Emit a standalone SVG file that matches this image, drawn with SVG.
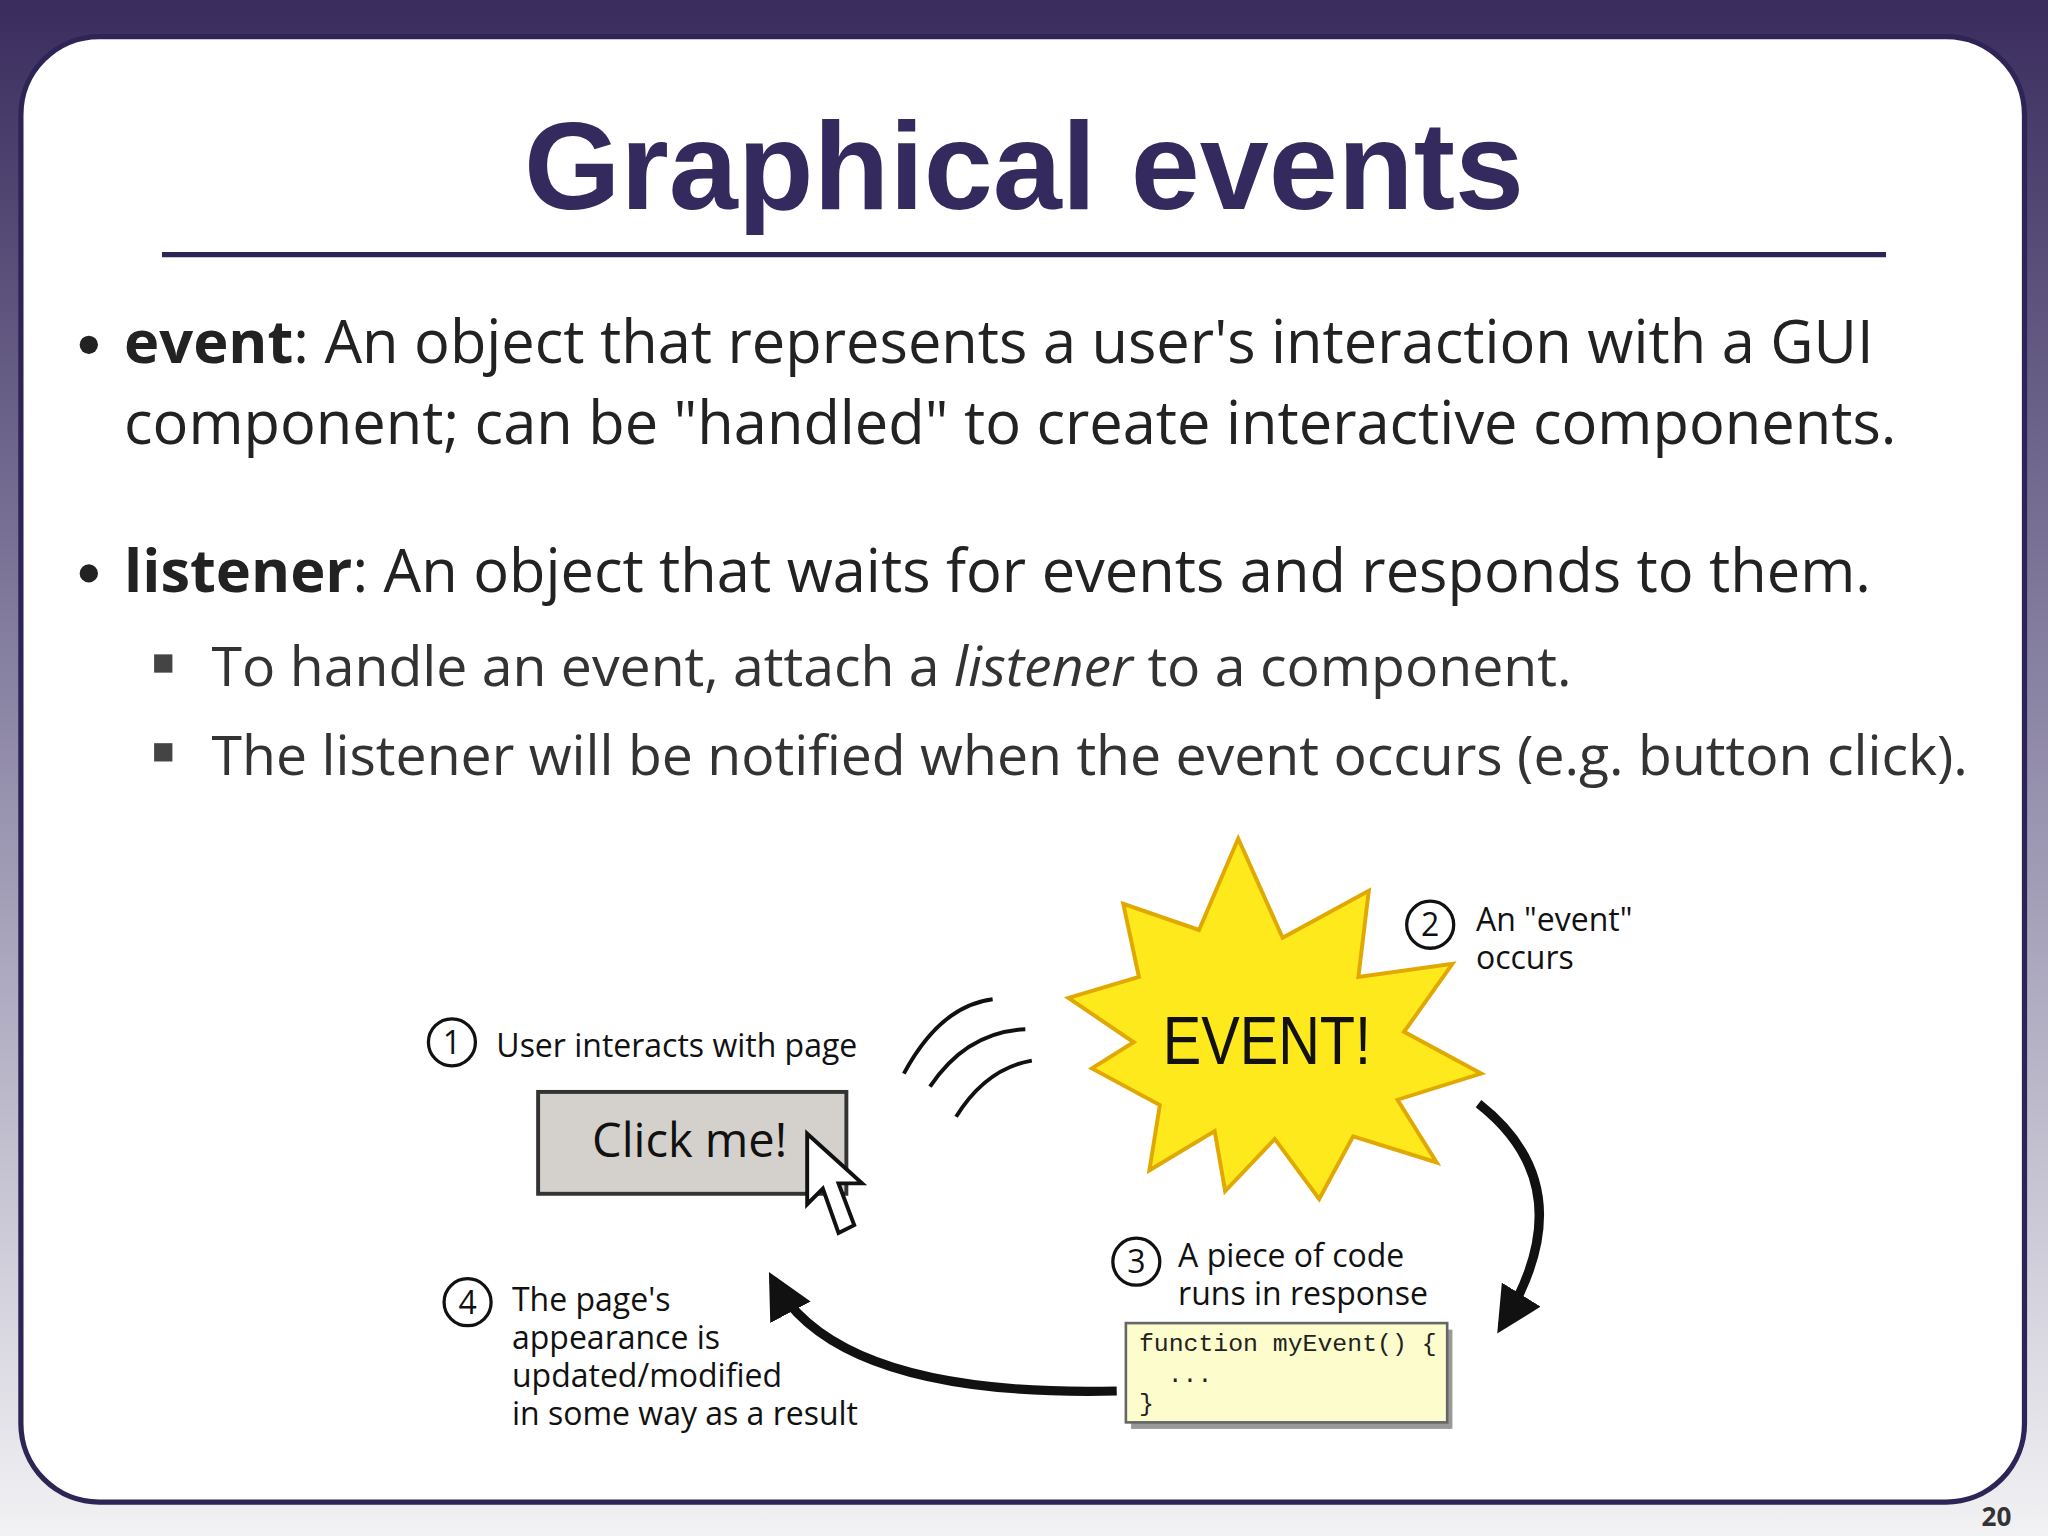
<svg xmlns="http://www.w3.org/2000/svg" width="2048" height="1536" viewBox="0 0 2048 1536">
<defs>
<linearGradient id="bg" x1="0" y1="0" x2="0" y2="1"><stop offset="0" stop-color="#3a2d5e"/><stop offset="0.45" stop-color="#8a84a4"/><stop offset="1" stop-color="#f2f2f4"/></linearGradient>
<marker id="ah" viewBox="0 0 10 10" refX="8" refY="5" markerWidth="5" markerHeight="5" orient="auto"><path d="M0,0 L10,5 L0,10 z" fill="#111"/></marker>
<style>
.b{font-family:"Open Sans","Liberation Sans",sans-serif;font-size:45.6px;fill:#222}
.s{font-family:"Open Sans","Liberation Sans",sans-serif;font-size:42.4px;fill:#333}
.d{font-family:"Open Sans","Liberation Sans",sans-serif;font-size:24.5px;fill:#111}
.c{fill:none;stroke:#111;stroke-width:3}
</style>
</defs>
<g transform="scale(1.30612)">
<rect width="1568" height="1176" fill="url(#bg)"/>
<rect x="16" y="28" width="1534" height="1122" rx="60" fill="#fff" stroke="#2e2455" stroke-width="4"/>
<text x="1540" y="1168" font-family="Open Sans,sans-serif" font-weight="bold" font-size="20" fill="#333" text-anchor="end">20</text>
<text x="784" y="160" text-anchor="middle" font-family="Liberation Sans,Arial,sans-serif" font-weight="bold" font-size="95" fill="#352a5e">Graphical events</text>
<line x1="124" y1="195" x2="1444" y2="195" stroke="#2e2455" stroke-width="4"/>
<circle cx="68" cy="264" r="7" fill="#222"/>
<text x="95" y="278" class="b"><tspan font-weight="bold">event</tspan>: An object that represents a user's interaction with a GUI</text>
<text x="95" y="340" class="b">component; can be "handled" to create interactive components.</text>
<circle cx="68" cy="439" r="7" fill="#222"/>
<text x="95" y="453" class="b"><tspan font-weight="bold">listener</tspan>: An object that waits for events and responds to them.</text>
<rect x="118" y="501" width="14" height="14" fill="#444"/>
<text x="162" y="525" class="s">To handle an event, attach a <tspan font-style="italic">listener</tspan> to a component.</text>
<rect x="118" y="569" width="14" height="14" fill="#444"/>
<text x="162" y="593" class="s">The listener will be notified when the event occurs (e.g. button click).</text>
<g id="star">
<polygon points="948,642 982,718 1048,682 1040,748 1112,738 1075,790 1134,822 1070,842 1100,890 1036,870 1010,918 976,872 938,912 930,866 880,896 888,846 836,818 868,798 818,764 872,748 860,692 918,712" fill="#fde91c" stroke="#e0a800" stroke-width="3"/>
<text x="970" y="815" text-anchor="middle" font-family="Liberation Sans Narrow,Liberation Sans,sans-serif" font-size="52" fill="#111" transform="translate(970 0) scale(0.85 1) translate(-970 0)">EVENT!</text>
</g>
<g id="button">
<rect x="412" y="836" width="236" height="78" fill="#d4d0cb" stroke="#333" stroke-width="3"/>
<text x="528" y="886" text-anchor="middle" font-family="Open Sans,sans-serif" font-size="36" fill="#111">Click me!</text>
<polygon points="618,868 618,922 630,910 642,944 654,938 642,906 660,906" fill="#fff" stroke="#111" stroke-width="3"/>
</g>
<g id="waves" class="c" stroke-width="5">
<path d="M692,822 Q720,770 760,765"/><path d="M712,832 Q740,790 785,788"/><path d="M732,855 Q755,818 790,812"/>
</g>
<g id="code">
<rect x="866" y="1018" width="246" height="76" fill="#999"/>
<rect x="862" y="1013" width="246" height="76" fill="#fdfccc" stroke="#666" stroke-width="2"/>
<text x="872" y="1034" font-family="Liberation Mono,monospace" font-size="19" fill="#222">function myEvent() {</text>
<text x="894" y="1058" font-family="Liberation Mono,monospace" font-size="19" fill="#222">...</text>
<text x="872" y="1080" font-family="Liberation Mono,monospace" font-size="19" fill="#222">}</text>
</g>
<g id="labels">
<circle cx="346" cy="798" r="18" fill="none" stroke="#111" stroke-width="2.5"/><text x="346" y="807" text-anchor="middle" class="d">1</text>
<text x="380" y="809" class="d">User interacts with page</text>
<circle cx="1095" cy="708" r="18" fill="none" stroke="#111" stroke-width="2.5"/><text x="1095" y="717" text-anchor="middle" class="d">2</text>
<text x="1130" y="713" class="d">An "event"</text><text x="1130" y="742" class="d">occurs</text>
<circle cx="870" cy="966" r="18" fill="none" stroke="#111" stroke-width="2.5"/><text x="870" y="975" text-anchor="middle" class="d">3</text>
<text x="902" y="970" class="d">A piece of code</text><text x="902" y="999" class="d">runs in response</text>
<circle cx="358" cy="997" r="18" fill="none" stroke="#111" stroke-width="2.5"/><text x="358" y="1006" text-anchor="middle" class="d">4</text>
<text x="392" y="1004" class="d">The page's</text><text x="392" y="1033" class="d">appearance is</text><text x="392" y="1062" class="d">updated/modified</text><text x="392" y="1091" class="d">in some way as a result</text>
</g>
<g id="connectors">
<path d="M1132,845 Q1215,910 1150,1015" fill="none" stroke="#111" stroke-width="7" marker-end="url(#ah)"/>
<path d="M855,1065 Q640,1070 592,980" fill="none" stroke="#111" stroke-width="7" marker-end="url(#ah)"/>
</g>
</g>
</svg>
